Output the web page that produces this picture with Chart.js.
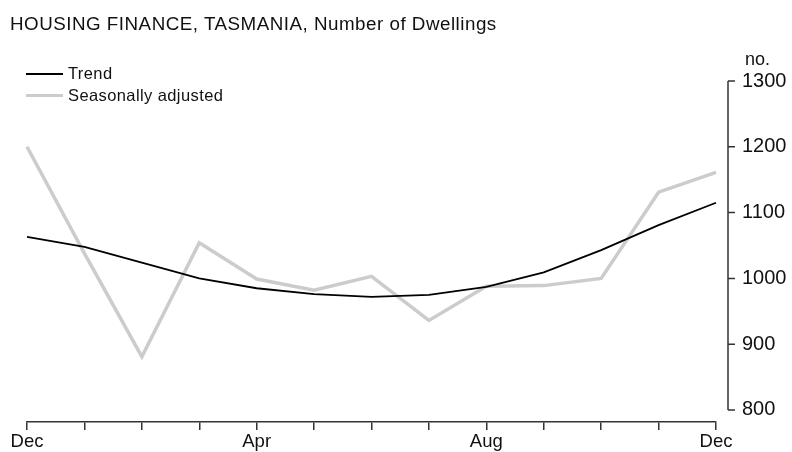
<!DOCTYPE html>
<html>
<head>
<meta charset="utf-8">
<script src="https://cdn.jsdelivr.net/npm/chart.js@4"></script>
<style>
  html, body { margin: 0; padding: 0; background: #fff; }
  #wrap { position: relative; width: 792px; height: 452px; font-family: "Liberation Sans", Arial, sans-serif; color: #111; }
  #chart { position: absolute; left: 0; top: 0; }
  .txt { position: absolute; white-space: nowrap; }
  .title { left: 10px; top: 15px; font-size: 18.8px; line-height: 18.5px; letter-spacing: 0.5px; }
  .leg { left: 68px; font-size: 16.5px; line-height: 16.5px; letter-spacing: 0.4px; }
  .sw { position: absolute; left: 26px; width: 37px; }
  .unit { left: 745px; top: 50px; font-size: 18px; line-height: 18px; }
</style>
</head>
<body>
<div id="wrap">
  <canvas id="chart" width="792" height="452"></canvas>
  <div class="txt title">HOUSING FINANCE, TASMANIA, Number of Dwellings</div>
  <div class="sw" style="top:72.5px;height:2px;background:#000"></div>
  <div class="txt leg" style="top:65px">Trend</div>
  <div class="sw" style="top:93.5px;height:3px;background:#cccccc"></div>
  <div class="txt leg" style="top:86.5px">Seasonally adjusted</div>
  <div class="txt unit">no.</div>
</div>
<script>
// monthly, Dec to Dec
var months = ['Dec','Jan','Feb','Mar','Apr','May','Jun','Jul','Aug','Sep','Oct','Nov','Dec'];
var shownMonths = [0, 4, 8, 12];
var trend = [1063, 1048, 1024, 1000, 985, 976, 972, 975, 987, 1009, 1043, 1081, 1115];
var seasAdj = [1200, 1038, 881, 1054, 999, 982, 1003, 936, 988, 989, 1000, 1131, 1161];
var yTicks = [800, 900, 1000, 1100, 1200, 1300];

var axisColor = '#333';

// y axis is drawn a little to the right of the plot, as in the source
var rightAxis = {
  id: 'rightAxis',
  afterDraw: function (chart) {
    var ctx = chart.ctx, y = chart.scales.y;
    var x0 = chart.chartArea.right + 12;
    ctx.save();
    ctx.strokeStyle = axisColor;
    ctx.lineWidth = 1.5;
    ctx.beginPath();
    ctx.moveTo(x0, y.getPixelForValue(yTicks[0]));
    ctx.lineTo(x0, y.getPixelForValue(yTicks[yTicks.length - 1]));
    yTicks.forEach(function (v) {
      var py = y.getPixelForValue(v);
      ctx.moveTo(x0, py);
      ctx.lineTo(x0 + 7, py);
    });
    ctx.stroke();
    ctx.restore();
  }
};

new Chart(document.getElementById('chart'), {
  type: 'line',
  data: {
    labels: months,
    datasets: [
      { label: 'Trend', data: trend, borderColor: '#000', borderWidth: 1.8, pointRadius: 0, tension: 0, clip: false },
      { label: 'Seasonally adjusted', data: seasAdj, borderColor: '#cccccc', borderWidth: 3.5, pointRadius: 0, tension: 0, clip: false }
    ]
  },
  options: {
    responsive: false, animation: false, devicePixelRatio: 1,
    layout: { padding: { left: 27, top: 81, right: 0, bottom: 0 } },
    plugins: { legend: { display: false }, tooltip: { enabled: false }, title: { display: false } },
    scales: {
      x: {
        offset: false,
        grid: { drawOnChartArea: false, drawTicks: true, tickLength: 8, color: axisColor, lineWidth: 1.5 },
        border: { display: true, color: axisColor, width: 1.5 },
        ticks: {
          autoSkip: false, maxRotation: 0, padding: 1, color: '#111',
          font: { family: '"Liberation Sans", Arial, sans-serif', size: 18.5 },
          callback: function (v, i) { return shownMonths.indexOf(i) >= 0 ? months[i] : ''; }
        },
        afterFit: function (s) { s.height = 30; }
      },
      y: {
        position: 'right', min: 781.7, max: 1300,
        afterBuildTicks: function (s) { s.ticks = yTicks.map(function (v) { return { value: v }; }); },
        grid: { display: false, drawTicks: false },
        border: { display: false },
        ticks: {
          padding: 26, color: '#111', font: { family: '"Liberation Sans", Arial, sans-serif', size: 20 },
          callback: function (v) { return String(v); }
        },
        afterFit: function (s) { s.width = 76; s.paddingTop = 0; s.paddingBottom = 0; }
      }
    }
  },
  plugins: [rightAxis]
});
</script>
</body>
</html>
